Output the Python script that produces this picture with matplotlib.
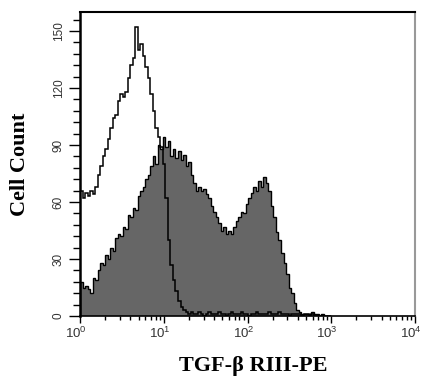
import numpy as np
import matplotlib
matplotlib.use("Agg")
import matplotlib.pyplot as plt
from matplotlib.ticker import FixedLocator, NullFormatter
from matplotlib.transforms import ScaledTranslation

plt.rcParams['mathtext.fontset'] = 'custom'
plt.rcParams['mathtext.rm'] = 'Liberation Sans'
plt.rcParams['mathtext.default'] = 'regular'

# Histogram channel counts on log-spaced bins from 10^0 to 10^3
stained = [18,15,16,14,12,20,19,24,28,27, 32,30,36,34,41,43,42,47,46,53,
           52,57,56,63,66,68,72,74,79,84, 80,90,88,94,89,92,84,88,83,87,
           82,85,79,81,74,70,66,68,66,67, 64,62,58,55,52,49,45,47,43,45,
           43,47,50,52,55,54,59,62,65,68, 66,71,68,73,70,66,58,52,44,40,
           33,28,22,15,12,7,3,2,1, 1,1,1,2,1,1,0,1,0,0,0]
control = [66,62,65,63,66,64,68,74,79,84, 88,93,99,104,106,113,117,115,118,125,
           132,136,152,140,143,137,131,125,117,108, 99,94,89,80,62,40,27,19,13,8,
           5,3,2,
           1,2,1,1,2,1,0,1,2,1, 1,1,2,1,1,0,1,2,1,1, 1,2,1,1,0,1,1,2,1,1,
           1,1,2,1,1,1,2,1,1,1, 0,1,1,1,1,0,1,1,0,1,
           0,0,0,0,0,0,0]
log_lo, log_hi = 0, 3

y_ticks = [0, 30, 60, 90, 120, 150]
x_ticks = [1, 10, 100, 1000, 10000]
x_ticklabels = [r'$10^{0}$', r'$10^{1}$', r'$10^{2}$', r'$10^{3}$', r'$10^{4}$']
xlabel = 'TGF-β RIII-PE'
ylabel = 'Cell Count'

fig = plt.figure(figsize=(4.25, 3.81), dpi=100)
ax = fig.add_axes([80/425, 1-316/381, 335/425, 304/381])

edges = np.logspace(log_lo, log_hi, len(stained) + 1)
ax.stairs(stained, edges, fill=True, color='#666666', zorder=2)
ax.stairs(stained, edges, color='black', lw=1.0, zorder=3)
edges_c = np.logspace(log_lo, log_hi, len(control) + 1)
ax.stairs(control, edges_c, color='black', lw=1.1, zorder=4)

ax.set_xscale('log')
ax.set_xlim(1, 10000)
ax.set_ylim(0, 160)

ax.xaxis.set_major_locator(FixedLocator(x_ticks))
ax.set_xticklabels(x_ticklabels)
minor = [m * d for d in [1, 10, 100, 1000] for m in range(2, 10)]
ax.xaxis.set_minor_locator(FixedLocator(minor))
ax.xaxis.set_minor_formatter(NullFormatter())

ax.set_yticks(y_ticks)
ax.yaxis.set_minor_locator(FixedLocator(np.arange(0, 160, 6)))

ax.tick_params(axis='both', which='major', labelsize=9.5, labelcolor='#333333',
               direction='out', width=1.0, color='black')
ax.tick_params(axis='y', which='major', length=8, pad=3)
ax.tick_params(axis='y', which='minor', length=5, width=1.0, direction='out')
ax.tick_params(axis='x', which='major', length=5, pad=2)
ax.tick_params(axis='x', which='minor', length=3, width=1.0, direction='out')

for lab in ax.get_yticklabels():
    lab.set_rotation(90)
    lab.set_va('center')
    lab.set_family('Liberation Sans')
    lab.set_fontsize(8.5)
shift = ScaledTranslation(-4/100, 0, fig.dpi_scale_trans)
for lab in ax.get_xticklabels():
    lab.set_family('Liberation Sans')
    lab.set_transform(lab.get_transform() + shift)

ax.spines['left'].set_linewidth(1.8)
ax.spines['bottom'].set_linewidth(1.2)
ax.spines['top'].set_linewidth(1.5)
ax.spines['right'].set_linewidth(1.5)
ax.spines['right'].set_color('#999999')

ax.set_ylabel(ylabel, family='Liberation Serif', fontweight='bold', fontsize=16)
ax.set_xlabel(xlabel, family='Liberation Serif', fontweight='bold', fontsize=16)
ax.yaxis.set_label_coords(-0.15, 0.5)
ax.xaxis.set_label_coords(0.516, -0.13)

fig.savefig('out.png', dpi=100)
